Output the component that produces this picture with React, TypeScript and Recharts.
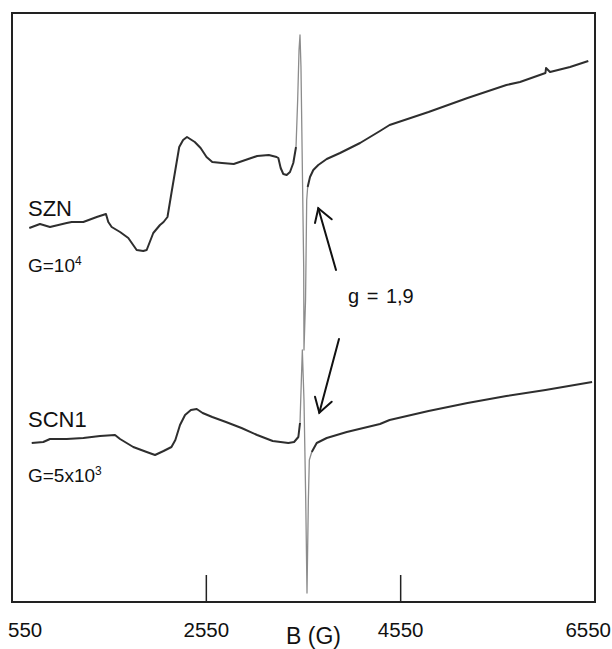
import React from "react";
import { LineChart, Line, XAxis, YAxis, ReferenceArea, Label } from "recharts";

// Magnetic field B (G) and EPR signal (arbitrary units)
const fieldSZN = [728, 838, 941, 1113, 1164, 1284, 1422, 1517, 1541, 1576, 1662, 1747, 1833, 1901, 1936, 2004, 2073, 2110, 2150, 2191, 2231, 2271, 2311, 2351, 2399, 2431, 2491, 2552, 2611, 2711, 2832, 2952, 3073, 3193, 3273, 3291, 3315, 3342, 3377, 3411, 3445, 3473, 3490, 3504, 3514, 3524, 3538, 3552, 3555, 3571, 3583, 3593, 3617, 3651, 3702, 3789, 3926, 4132, 4337, 4436, 4837, 5238, 5638, 5778, 6040, 6046, 6087, 6293, 6481];
const signalSZN = [374, 378, 375, 379, 380, 380, 385, 388, 380, 375, 370, 364, 352, 351, 352, 369, 377, 380, 385, 409, 432, 455, 462, 465, 462, 460, 454, 445, 440, 439, 438, 442, 446, 447, 445, 444, 434, 428, 427, 430, 439, 455, 502, 552, 567, 535, 435, 335, 252, 302, 402, 415, 425, 432, 437, 443, 449, 459, 471, 477, 490, 504, 517, 520, 529, 534, 530, 535, 541];

const fieldSCN1 = [753, 872, 941, 1113, 1284, 1456, 1610, 1662, 1798, 1936, 2022, 2110, 2191, 2231, 2279, 2331, 2391, 2451, 2512, 2611, 2752, 2912, 3073, 3233, 3394, 3453, 3497, 3514, 3527, 3538, 3555, 3573, 3586, 3600, 3610, 3635, 3686, 3789, 3995, 4337, 4436, 4837, 5238, 5638, 6040, 6520];
const signalSCN1 = [159, 160, 163, 163, 164, 166, 167, 163, 155, 150, 147, 151, 155, 162, 177, 187, 192, 193, 189, 185, 180, 174, 167, 161, 159, 160, 165, 179, 219, 252, 202, 102, 9, 102, 142, 150, 159, 164, 170, 178, 182, 191, 199, 206, 212, 220];

const xTicks = [550, 2550, 4550, 6550];
const innerTicks = [2550, 4550];

const szn = fieldSZN.map((b, i) => ({ b, i: signalSZN[i] }));
const scn1 = fieldSCN1.map((b, i) => ({ b, i: signalSCN1[i] }));

const split = (d: { b: number; i: number }[], lo: number, hi: number) => ({
  pre: d.filter((p) => p.b <= lo),
  mid: d.filter((p) => p.b >= lo && p.b <= hi),
  post: d.filter((p) => p.b >= hi),
});
const sznParts = split(szn, 3473, 3593);
const scnParts = split(scn1, 3514, 3635);

const FONT = "'Liberation Sans', Arial, Helvetica, sans-serif";
const DARK = "#2e2e2e";
const LIGHT = "#8c8c8c";

const Tick = (props: any) => {
  const { x, y, payload } = props;
  const v = payload.value;
  const first = v === xTicks[0];
  const last = v === xTicks[xTicks.length - 1];
  const anchor = first ? "start" : last ? "end" : "middle";
  const tx = first ? x - 4 : last ? x + 16 : x;
  return (
    <g>
      {innerTicks.includes(v) && (
        <line x1={x} x2={x} y1={y} y2={y - 27} stroke="#222" strokeWidth={1.5} />
      )}
      <text x={tx} y={y + 35} textAnchor={anchor} fontSize={20.5} fontFamily={FONT} fill="#111">
        {v}
      </text>
    </g>
  );
};

const AxisTitle = (props: any) => {
  const vb = props.viewBox || {};
  const x = (vb.x ?? 12) + (vb.width ?? 583) / 2 + 10;
  const y = (vb.y ?? 602) + 42;
  return (
    <text x={x} y={y} textAnchor="middle" fontSize={23} fontFamily={FONT} fill="#111">
      B (G)
    </text>
  );
};

export default function App() {
  const seg = (data: any[], color: string, w: number, key: string) => (
    <Line
      key={key}
      data={data}
      dataKey="i"
      type="linear"
      stroke={color}
      strokeWidth={w}
      dot={false}
      isAnimationActive={false}
      strokeLinejoin="round"
    />
  );
  return (
    <div style={{ position: "absolute", left: 0, top: 0, width: 612, height: 649, background: "#fff" }}>
      <LineChart width={612} height={649} margin={{ top: 13, right: 17, left: 12, bottom: 0 }}>
        <XAxis
          dataKey="b"
          type="number"
          domain={[550, 6550]}
          ticks={xTicks}
          interval={0}
          allowDataOverflow
          axisLine={false}
          tickLine={false}
          tickSize={0}
          tickMargin={0}
          height={47}
          tick={<Tick />}
        >
          <Label content={<AxisTitle />} />
        </XAxis>
        <YAxis type="number" domain={[0, 589]} hide allowDataOverflow />
        <ReferenceArea x1={550} x2={6550} y1={0} y2={589} fill="none" stroke="#222" strokeWidth={2} />
        {seg(sznParts.pre, DARK, 2, "s1")}
        {seg(sznParts.mid, LIGHT, 1.3, "s2")}
        {seg(sznParts.post, DARK, 2, "s3")}
        {seg(scnParts.pre, DARK, 2, "c1")}
        {seg(scnParts.mid, LIGHT, 1.3, "c2")}
        {seg(scnParts.post, DARK, 2, "c3")}
      </LineChart>
      <svg
        width={612}
        height={649}
        style={{ position: "absolute", left: 0, top: 0, pointerEvents: "none" }}
      >
        <g fontFamily={FONT} fill="#111">
          <text x={28} y={216} fontSize={22}>SZN</text>
          <text x={28} y={272} fontSize={19}>
            G=10<tspan fontSize={12} dy={-7}>4</tspan>
          </text>
          <text x={28} y={427} fontSize={22}>SCN1</text>
          <text x={28} y={482} fontSize={19}>
            G=5x10<tspan fontSize={12} dy={-7}>3</tspan>
          </text>
          <text x={348} y={303} fontSize={20} wordSpacing={2}>g = 1,9</text>
        </g>
        <g stroke="#111" strokeWidth={2} fill="none" strokeLinecap="round">
          <line x1={336} y1={270} x2={318.3} y2={208.3} />
          <polyline points="315,223 318.3,208.3 331.7,219.3" />
          <line x1={339} y1={339} x2={319.3} y2={412.7} />
          <polyline points="315,396.7 319.3,412.7 331.7,401.7" />
        </g>
      </svg>
    </div>
  );
}
